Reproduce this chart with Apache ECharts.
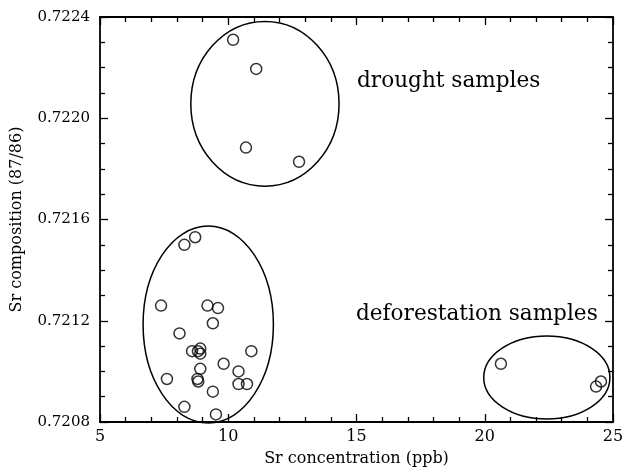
<!DOCTYPE html>
<html>
<head>
<meta charset="utf-8">
<script src="https://cdn.jsdelivr.net/npm/echarts@6/dist/echarts.min.js"></script>
<style>
  html, body { margin: 0; padding: 0; background: #fff; }
  #chart { width: 624px; height: 473px; }
</style>
</head>
<body>
<div id="chart"></div>
<script>
// drought samples
const droughtX = [10.19, 11.09, 10.69, 12.76];
const droughtY = [0.72231, 0.722195, 0.721884, 0.721828];

// deforestation samples
const deforX = [8.29, 8.71, 7.38, 9.19, 9.60, 9.40, 8.10, 8.59, 8.82, 8.91, 8.91, 10.90, 8.91,
  9.82, 10.40, 7.61, 8.80, 8.83, 10.40, 10.73, 9.40, 8.29, 9.52, 20.63, 24.53, 24.34];
const deforY = [0.72150, 0.72153, 0.72126, 0.72126, 0.72125, 0.72119, 0.72115, 0.72108, 0.72108,
  0.72109, 0.72107, 0.72108, 0.72101, 0.72103, 0.72100, 0.72097, 0.72097, 0.72096, 0.72095,
  0.72095, 0.72092, 0.72086, 0.72083, 0.72103, 0.72096, 0.72094];

// group outlines: centre and half-axes in data units
const ellipseCx = [11.43, 9.22, 22.42];
const ellipseCy = [0.722057, 0.721185, 0.720976];
const ellipseRx = [2.89, 2.54, 2.46];
const ellipseRy = [0.0003256, 0.000389, 0.000164];

const xTicks = [5, 25, 5];            // min, max, interval
const yTicks = [0.7208, 0.7224, 0.0004];

const font = 'DejaVu Serif';

const points = droughtX.map((x, i) => [x, droughtY[i]])
  .concat(deforX.map((x, i) => [x, deforY[i]]));
const ellipses = ellipseCx.map((cx, i) => [cx, ellipseCy[i], ellipseRx[i], ellipseRy[i]]);

const chart = echarts.init(document.getElementById('chart'));

const baseX = {
  type: 'value',
  min: xTicks[0], max: xTicks[1], interval: xTicks[2],
  axisLine: { lineStyle: { color: '#000', width: 1.8 } },
  axisTick: { inside: true, length: 8, lineStyle: { color: '#000', width: 1.3 } },
  minorTick: { show: true, splitNumber: 5, length: 5, lineStyle: { color: '#000', width: 1.3 } },
  splitLine: { show: false }
};
const baseY = {
  type: 'value',
  min: yTicks[0], max: yTicks[1], interval: yTicks[2],
  axisLine: { lineStyle: { color: '#000', width: 1.8 } },
  axisTick: { inside: true, length: 8, lineStyle: { color: '#000', width: 1.3 } },
  minorTick: { show: true, splitNumber: 4, length: 5, lineStyle: { color: '#000', width: 1.3 } },
  splitLine: { show: false }
};

const option = {
  animation: false,
  backgroundColor: '#fff',
  grid: { left: 100, right: 11, top: 17, bottom: 51, outerBoundsMode: 'none' },
  xAxis: [
    Object.assign({}, baseX, {
      position: 'bottom',
      name: 'Sr concentration (ppb)',
      nameLocation: 'middle',
      nameGap: 29,
      nameTextStyle: { fontFamily: font, fontSize: 16, color: '#000' },
      axisLabel: { fontFamily: font, fontSize: 16, color: '#000', margin: 7 }
    }),
    Object.assign({}, baseX, { position: 'top', axisLabel: { show: false } })
  ],
  yAxis: [
    Object.assign({}, baseY, {
      position: 'left',
      name: 'Sr composition (87/86)',
      nameLocation: 'middle',
      nameGap: 75,
      nameTextStyle: { fontFamily: font, fontSize: 16, color: '#000' },
      axisLabel: {
        fontFamily: font, fontSize: 15, color: '#000', margin: 10,
        formatter: (v) => v.toFixed(4)
      }
    }),
    Object.assign({}, baseY, { position: 'right', axisLabel: { show: false } })
  ],
  graphic: [
    { type: 'text', left: 357, top: 70,
      style: { text: 'drought samples', font: '21.6px "DejaVu Serif"', fill: '#000' } },
    { type: 'text', left: 356, top: 303,
      style: { text: 'deforestation samples', font: '21.6px "DejaVu Serif"', fill: '#000' } }
  ],
  series: [
    {
      type: 'custom',
      clip: false,
      silent: true,
      data: ellipses,
      renderItem: function (params, api) {
        const c = api.coord([api.value(0), api.value(1)]);
        const e = api.coord([api.value(0) + api.value(2), api.value(1) + api.value(3)]);
        return {
          type: 'ellipse',
          shape: { cx: c[0], cy: c[1], rx: Math.abs(e[0] - c[0]), ry: Math.abs(e[1] - c[1]) },
          style: { fill: 'none', stroke: '#000', lineWidth: 1.5 }
        };
      }
    },
    {
      type: 'scatter',
      data: points,
      symbol: 'circle',
      symbolSize: 11,
      clip: false,
      itemStyle: { color: 'rgba(0,0,0,0)', borderColor: '#000', borderWidth: 1.5 }
    }
  ]
};

option && chart.setOption(option);
</script>
</body>
</html>
